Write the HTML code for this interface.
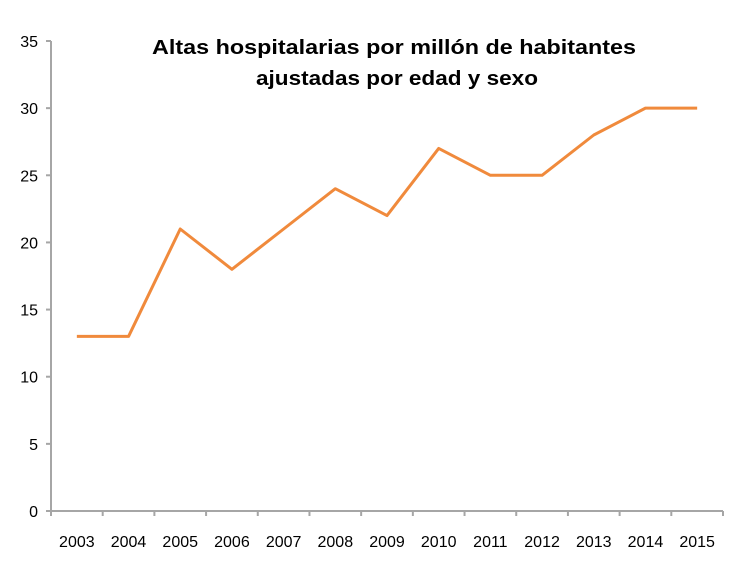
<!DOCTYPE html>
<html><head><meta charset="utf-8"><style>
body{margin:0;background:#fff;}
svg text{font-family:"Liberation Sans",sans-serif;}
</style></head><body>
<svg width="750" height="580">
<text x="152" y="54" font-size="20" font-weight="bold" fill="#000" textLength="484" lengthAdjust="spacingAndGlyphs">Altas hospitalarias por millón de habitantes</text>
<text x="256" y="85" font-size="20" font-weight="bold" fill="#000" textLength="282" lengthAdjust="spacingAndGlyphs">ajustadas por edad y sexo</text>
<g id="axes"></g>
<path id="line" fill="none" stroke="#f08a3c" stroke-width="3" stroke-linejoin="round"></path>
</svg>
<script>
const years=["2003","2004","2005","2006","2007","2008","2009","2010","2011","2012","2013","2014","2015"];
const values=[13,13,21,18,21,24,22,27,25,25,28,30,30];
const yTicks=[0,5,10,15,20,25,30,35];
const x0=51,x1=723,y0=511,yTop=41,yMax=35;
const step=(x1-x0)/years.length;
const xs=i=>x0+step*(i+0.5);
const ys=v=>y0-(y0-yTop)*v/yMax;
const g=document.getElementById('axes');
const NS='http://www.w3.org/2000/svg';
function mk(t,a){const e=document.createElementNS(NS,t);for(const k in a)e.setAttribute(k,a[k]);g.appendChild(e);return e;}
let ax=mk('line',{x1:x0,y1:yTop,x2:x0,y2:y0,stroke:'#a6a6a6','stroke-width':2});


let bx=mk('line',{x1:x0,y1:y0,x2:x1,y2:y0,stroke:'#a6a6a6','stroke-width':2});


yTicks.forEach(v=>{
 const y=ys(v);
 let t=mk('line',{x1:x0-5,y1:y,x2:x0,y2:y,stroke:'#a6a6a6','stroke-width':2});
 
 
 let l=mk('text',{x:38,y:y+6,'text-anchor':'end','font-size':16,fill:'#000'});
 l.textContent=v;
 
 
});
for(let i=0;i<=years.length;i++){
 const x=x0+step*i;
 let t=mk('line',{x1:x,y1:y0,x2:x,y2:y0+5,stroke:'#a6a6a6','stroke-width':2});
 
 
}
years.forEach((yr,i)=>{
 let l=mk('text',{x:xs(i),y:547,'text-anchor':'middle','font-size':16,fill:'#000'});
 l.textContent=yr;
 
 
});
document.getElementById('line').setAttribute('d',values.map((v,i)=>(i?'L':'M')+xs(i)+','+ys(v)).join(''));
</script>
</body></html>
